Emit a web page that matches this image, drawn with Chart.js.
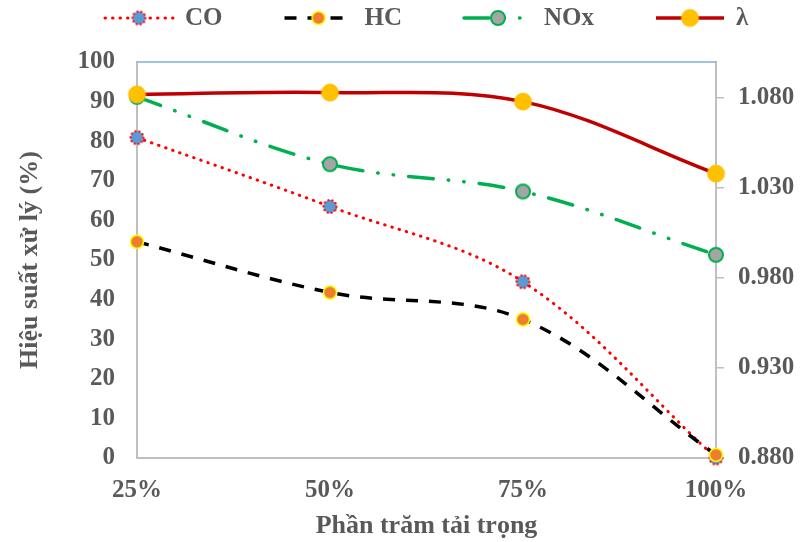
<!DOCTYPE html>
<html>
<head>
<meta charset="utf-8">
<script src="https://cdn.jsdelivr.net/npm/chart.js@4"></script>
<style>
  html, body { margin: 0; padding: 0; background: #fff; }
  #wrap { width: 800px; height: 542px; }
</style>
</head>
<body>
<div id="wrap"><canvas id="myChart" width="800" height="542"></canvas></div>
<script>
// data
const loads = ["25%", "50%", "75%", "100%"];
const coEff = [80.9, 63.5, 44.5, 0.0];
const hcEff = [54.6, 41.8, 35.0, 0.8];
const noxEff = [91.2, 74.2, 67.3, 51.3];
const lambda = [1.082, 1.083, 1.078, 1.038];
const lambdaTicks = [0.88, 0.93, 0.98, 1.03, 1.08];

const FONT = "Liberation Serif";
const GREY = "#595959";
const AXIS = "#BFBFBF";

// small canvas marker: filled circle with an (optionally dotted) border
function makeMarker(r, fill, stroke, lw, dash) {
  const s = Math.ceil(2 * (r + lw)) + 2;
  const c = document.createElement("canvas");
  c.width = s;
  c.height = s;
  const g = c.getContext("2d");
  g.beginPath();
  g.arc(s / 2, s / 2, r, 0, Math.PI * 2);
  g.fillStyle = fill;
  g.fill();
  if (stroke) {
    g.lineWidth = lw;
    g.strokeStyle = stroke;
    if (dash) {
      g.setLineDash(dash);
      g.lineCap = "round";
    }
    g.stroke();
  }
  return c;
}

const series = [
  {
    label: "CO", data: coEff, axis: "y", color: "#FF0000", width: 3,
    dash: [0.5, 7], cap: "round",
    marker: makeMarker(6.5, "#5B9BD5", "#FF0000", 2, [0.5, 3.5]), order: 3,
  },
  {
    label: "HC", data: hcEff, axis: "y", color: "#000000", width: 3.5,
    dash: [12, 11], cap: "butt",
    marker: makeMarker(6.5, "#ED7D31", "#FFFF00", 1.5), order: 2,
  },
  {
    label: "NOx", data: noxEff, axis: "y", color: "#00B050", width: 3.5,
    dash: [25, 15, 0.5, 15, 0.5, 15], cap: "round",
    marker: makeMarker(7, "#A5A5A5", "#00B050", 2), order: 1,
  },
  {
    label: "λ", data: lambda, axis: "y1", color: "#C00000", width: 3.5,
    dash: [], cap: "butt",
    marker: makeMarker(8.5, "#FFC000", "#FFC000", 1), order: 0,
  },
];

const data = {
  labels: loads,
  datasets: series.map((s) => ({
    label: s.label,
    data: s.data,
    yAxisID: s.axis,
    borderColor: s.color,
    borderWidth: s.width,
    borderDash: s.dash,
    borderCapStyle: s.cap,
    pointStyle: s.marker,
    pointRadius: 8,
    tension: 0.35,
    clip: false,
    order: s.order,
  })),
};

// legend drawn by hand so the line samples look like the original
const legendPlugin = {
  id: "lineLegend",
  afterDraw(chart) {
    const ctx = chart.ctx;
    ctx.save();
    ctx.font = "bold 25px " + FONT;
    ctx.textBaseline = "middle";
    let x = 105;
    const y = 18;
    const sampleW = 68;
    series.forEach((s) => {
      ctx.beginPath();
      ctx.strokeStyle = s.color;
      ctx.lineWidth = s.width;
      ctx.setLineDash(s.dash);
      ctx.lineCap = s.cap;
      ctx.moveTo(x, y);
      ctx.lineTo(x + sampleW, y);
      ctx.stroke();
      ctx.setLineDash([]);
      const m = s.marker;
      ctx.drawImage(m, x + sampleW / 2 - m.width / 2, y - m.height / 2);
      ctx.fillStyle = GREY;
      ctx.fillText(s.label, x + sampleW + 12, y + 1);
      x += sampleW + 12 + ctx.measureText(s.label).width + 62;
    });
    ctx.restore();
  },
};

// light blue line on top of the plot area
const topBorder = {
  id: "topBorder",
  beforeDatasetsDraw(chart) {
    const { ctx, chartArea } = chart;
    ctx.save();
    ctx.strokeStyle = "#7FAFDD";
    ctx.lineWidth = 1.5;
    ctx.beginPath();
    ctx.moveTo(chartArea.left, chartArea.top);
    ctx.lineTo(chartArea.right, chartArea.top);
    ctx.stroke();
    ctx.restore();
  },
};

const tickFont = { family: FONT, size: 25, weight: "bold" };

const config = {
  type: "line",
  data: data,
  options: {
    responsive: false,
    animation: false,
    layout: { padding: { top: 62, left: 0, right: 0, bottom: 0 } },
    plugins: {
      legend: { display: false },
      tooltip: { enabled: false },
    },
    scales: {
      x: {
        offset: false,
        grid: { display: false, drawTicks: false },
        border: { color: AXIS, width: 2 },
        ticks: { color: GREY, padding: 18, font: tickFont },
        title: {
          display: true,
          text: "Phần trăm tải trọng",
          color: GREY,
          padding: { top: 0, bottom: 0 },
          font: { family: FONT, size: 26, weight: "bold" },
        },
        afterFit: (scale) => { scale.height = 84; },
      },
      y: {
        position: "left",
        min: 0,
        max: 100,
        ticks: { stepSize: 10, color: GREY, padding: 22, font: tickFont },
        grid: { display: false, drawTicks: false },
        border: { color: AXIS, width: 2 },
        title: {
          display: true,
          text: "Hiệu suất xử lý (%)",
          color: GREY,
          padding: { top: 15, bottom: 0 },
          font: { family: FONT, size: 26, weight: "bold" },
        },
        afterFit: (scale) => { scale.width = 137; },
      },
      y1: {
        position: "right",
        min: 0.88,
        max: 1.1,
        afterBuildTicks: (scale) => {
          scale.ticks = lambdaTicks.map((v) => ({ value: v }));
        },
        ticks: {
          color: GREY,
          padding: 14,
          callback: (v) => Number(v).toFixed(3),
          font: tickFont,
        },
        grid: {
          display: true,
          drawOnChartArea: false,
          drawTicks: true,
          tickLength: 8,
          color: AXIS,
          lineWidth: 1.5,
        },
        border: { color: AXIS, width: 2 },
        afterFit: (scale) => { scale.width = 84; },
      },
    },
  },
  plugins: [legendPlugin, topBorder],
};

const ctx = document.getElementById("myChart").getContext("2d");
new Chart(ctx, config);
</script>
</body>
</html>
